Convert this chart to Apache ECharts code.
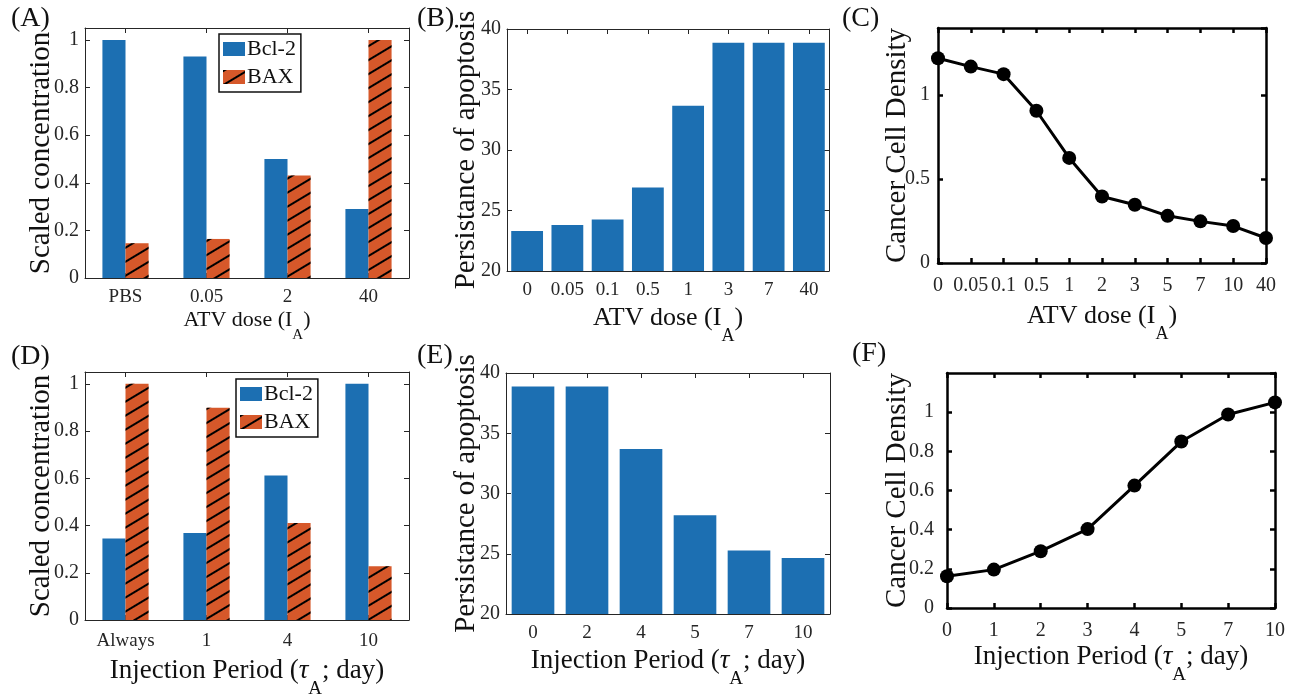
<!DOCTYPE html>
<html>
<head>
<meta charset="utf-8">
<script src="https://cdn.jsdelivr.net/npm/echarts@6/dist/echarts.min.js"></script>
<style>
html,body{margin:0;padding:0;background:#fff;}
#chart{width:1298px;height:696px;}
</style>
</head>
<body>
<div id="chart"></div>
<script>
// ---------- data ----------
const catA = ['PBS', '0.05', '2', '40'];
const bclA = [1.0, 0.93, 0.5, 0.29];
const baxA = [0.146, 0.164, 0.431, 1.0];

const catB = ['0', '0.05', '0.1', '0.5', '1', '3', '7', '40'];
const persB = [23.3, 23.8, 24.25, 26.9, 33.65, 38.87, 38.87, 38.87];

const catC = ['0', '0.05', '0.1', '0.5', '1', '2', '3', '5', '7', '10', '40'];
const densC = [1.22, 1.17, 1.125, 0.907, 0.626, 0.396, 0.347, 0.281, 0.248, 0.22, 0.149];

const catD = ['Always', '1', '4', '10'];
const bclD = [0.345, 0.368, 0.612, 1.0];
const baxD = [1.0, 0.899, 0.411, 0.228];

const catE = ['0', '2', '4', '5', '7', '10'];
const persE = [38.87, 38.87, 33.69, 28.19, 25.28, 24.65];

const catF = ['0', '1', '2', '3', '4', '5', '7', '10'];
const densF = [0.162, 0.196, 0.29, 0.403, 0.625, 0.85, 0.988, 1.05];

const seriesNames = ['Bcl-2', 'BAX'];
const titleATV = '{n|ATV dose (I}{s|A}{n|)}';
const titleInj = '{n|Injection Period (}{t|τ}{s|A}{n|; day)}';

// ---------- styles ----------
const FONT = '"Liberation Serif", "Times New Roman", serif';
const BLUE = '#1C6FB2';
const ORANGE = '#D6582A';
const hatch = {
  symbol: 'rect', symbolSize: 1, color: '#000',
  dashArrayX: [1, 0], dashArrayY: [1.4, 9.6], rotation: -0.54
};

function richTitle(fs) {
  return {
    n: {fontSize: fs, fontFamily: FONT, color: '#111', verticalAlign: 'top', lineHeight: fs + 4},
    t: {fontSize: fs, fontFamily: FONT, color: '#111', fontStyle: 'italic', verticalAlign: 'top', lineHeight: fs + 4},
    s: {fontSize: Math.round(fs * 0.7), fontFamily: FONT, color: '#111', verticalAlign: 'top',
        lineHeight: Math.round(fs * 0.7), padding: [Math.round(fs * 0.85), 0, 0, 0]}
  };
}

function xAxes(gi, data, o) {
  const lineStyle = {color: o.lc, width: o.lw};
  const base = {
    type: 'category', gridIndex: gi, data: data, boundaryGap: o.bg,
    axisLine: {show: true, onZero: false, lineStyle: lineStyle},
    splitLine: {show: false}
  };
  return [
    Object.assign({}, base, {
      position: 'bottom',
      axisTick: {show: true, inside: true, length: 5, alignWithLabel: true, lineStyle: lineStyle},
      axisLabel: {show: true, interval: 0, margin: o.lm, fontSize: o.lfs, fontFamily: FONT, color: '#262626'},
      name: o.name, nameLocation: 'middle', nameGap: o.ng, nameMoveOverlap: false,
      nameTextStyle: {rich: richTitle(o.nfs)}
    }),
    Object.assign({}, base, {
      position: 'top',
      axisTick: {show: true, inside: true, length: 5, alignWithLabel: true, lineStyle: lineStyle},
      axisLabel: {show: false}
    })
  ];
}

function yAxes(gi, min, max, interval, o) {
  const lineStyle = {color: o.lc, width: o.lw};
  const base = {
    type: 'value', gridIndex: gi, min: min, max: max, interval: interval,
    axisLine: {show: true, onZero: false, lineStyle: lineStyle},
    splitLine: {show: false}
  };
  return [
    Object.assign({}, base, {
      position: 'left',
      axisTick: {show: true, inside: true, length: 5, lineStyle: lineStyle},
      axisLabel: {show: true, showMaxLabel: o.showMax, margin: o.lm, fontSize: o.lfs, fontFamily: FONT, color: '#262626'},
      name: o.name, nameLocation: 'middle', nameGap: o.ng, nameMoveOverlap: false,
      nameTextStyle: {fontSize: o.nfs, fontFamily: FONT, color: '#111'}
    }),
    Object.assign({}, base, {
      position: 'right',
      axisTick: {show: true, inside: true, length: 5, lineStyle: lineStyle},
      axisLabel: {show: false}
    })
  ];
}

const gridBoxes = [
  [85, 28, 324, 250],
  [507, 29, 322, 242],
  [938, 28, 328, 235],
  [85, 372, 324, 248],
  [506, 373, 324, 241],
  [947, 373, 328, 235]
];
const grids = gridBoxes.map(b => ({
  left: b[0], top: b[1], width: b[2], height: b[3],
  containLabel: false, outerBoundsMode: 'none'
}));

const thin = {lc: '#262626', lw: 1};
const thick = {lc: '#000', lw: 2.5};

const xAxis = [].concat(
  xAxes(0, catA, Object.assign({bg: true, lm: 10, lfs: 19, name: titleATV, ng: 31, nfs: 22}, thin)),
  xAxes(1, catB, Object.assign({bg: true, lm: 10, lfs: 19, name: titleATV, ng: 34, nfs: 26}, thin)),
  xAxes(2, catC, Object.assign({bg: false, lm: 13, lfs: 20, name: titleATV, ng: 40, nfs: 26}, thick)),
  xAxes(3, catD, Object.assign({bg: true, lm: 12, lfs: 19, name: titleInj, ng: 37, nfs: 27}, thin)),
  xAxes(4, catE, Object.assign({bg: true, lm: 10, lfs: 19, name: titleInj, ng: 33, nfs: 27}, thin)),
  xAxes(5, catF, Object.assign({bg: false, lm: 13, lfs: 20, name: titleInj, ng: 35, nfs: 27}, thick))
);

const yAxis = [].concat(
  yAxes(0, 0, 1.05, 0.2, Object.assign({showMax: false, lm: 6, lfs: 20, name: 'Scaled concentration', ng: 29, nfs: 29}, thin)),
  yAxes(1, 20, 40, 5, Object.assign({showMax: true, lm: 6, lfs: 20, name: 'Persistance of apoptosis', ng: 26, nfs: 29}, thin)),
  yAxes(2, 0, 1.4, 0.5, Object.assign({showMax: false, lm: 8, lfs: 20, name: 'Cancer Cell Density', ng: 26, nfs: 29}, thick)),
  yAxes(3, 0, 1.05, 0.2, Object.assign({showMax: false, lm: 6, lfs: 20, name: 'Scaled concentration', ng: 29, nfs: 29}, thin)),
  yAxes(4, 20, 40, 5, Object.assign({showMax: true, lm: 6, lfs: 20, name: 'Persistance of apoptosis', ng: 25, nfs: 29}, thin)),
  yAxes(5, 0, 1.2, 0.2, Object.assign({showMax: false, lm: 13, lfs: 20, name: 'Cancer Cell Density', ng: 35, nfs: 29}, thick))
);

function groupedBars(gi, bcl, bax) {
  return [
    {type: 'bar', name: seriesNames[0], xAxisIndex: gi * 2, yAxisIndex: gi * 2, data: bcl,
     barGap: '0%', barCategoryGap: '43%', itemStyle: {color: BLUE}},
    {type: 'bar', name: seriesNames[1], xAxisIndex: gi * 2, yAxisIndex: gi * 2, data: bax,
     barGap: '0%', barCategoryGap: '43%', itemStyle: {color: ORANGE, decal: hatch}}
  ];
}
function singleBars(gi, vals) {
  return {type: 'bar', xAxisIndex: gi * 2, yAxisIndex: gi * 2, data: vals,
          barCategoryGap: '21%', itemStyle: {color: BLUE}};
}
function dotLine(gi, vals) {
  return {type: 'line', xAxisIndex: gi * 2, yAxisIndex: gi * 2, data: vals,
          symbol: 'circle', symbolSize: 14, lineStyle: {color: '#000', width: 3},
          itemStyle: {color: '#000'}, clip: false, z: 5};
}

const series = [].concat(
  groupedBars(0, bclA, baxA),
  [singleBars(1, persB)],
  [dotLine(2, densC)],
  groupedBars(3, bclD, baxD),
  [singleBars(4, persE)],
  [dotLine(5, densF)]
);

const legendBase = {
  data: seriesNames, orient: 'vertical', icon: 'rect',
  itemWidth: 22, itemHeight: 14, itemGap: 6, padding: [4, 5, 4, 4],
  borderColor: '#111', borderWidth: 1.5, backgroundColor: '#fff',
  textStyle: {fontSize: 22, fontFamily: FONT, color: '#111', padding: [0, 0, 0, -3]},
  selectedMode: false
};
const legend = [
  Object.assign({}, legendBase, {left: 219, top: 34}),
  Object.assign({}, legendBase, {left: 236, top: 379})
];

function panelLabel(txt, x, y) {
  return {type: 'text', left: x, top: y,
          style: {text: txt, font: '28px ' + FONT, fill: '#111'}};
}
const graphic = [
  panelLabel('(A)', 11, 5), panelLabel('(B)', 417, 5), panelLabel('(C)', 842, 5),
  panelLabel('(D)', 11, 343), panelLabel('(E)', 417, 342), panelLabel('(F)', 852, 340)
];

const chart = echarts.init(document.getElementById('chart'), null, {renderer: 'canvas'});
chart.setOption({
  backgroundColor: '#fff',
  animation: false,
  grid: grids,
  xAxis: xAxis,
  yAxis: yAxis,
  series: series,
  legend: legend,
  graphic: graphic
});
</script>
</body>
</html>
